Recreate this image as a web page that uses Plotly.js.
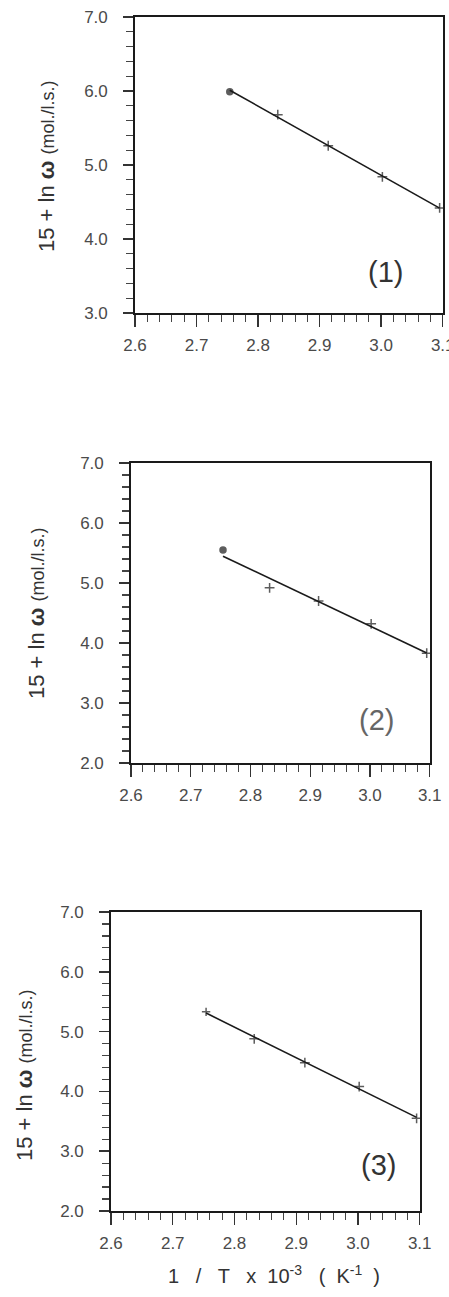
<!DOCTYPE html>
<html>
<head>
<meta charset="utf-8">
<script src="https://cdn.plot.ly/plotly-3.0.1.min.js"></script>
<style>html,body{margin:0;padding:0;background:#fff}#chart{width:449px;height:1297px}</style>
</head>
<body>
<div id="chart"></div>
<script>
// ---- data ----
var invT = [2.754, 2.832, 2.914, 3.002, 3.095];          // 1/T x 10^-3 (K^-1)
var lnW1 = [5.99, 5.68, 5.26, 4.84, 4.42];               // panel (1)
var lnW2 = [5.55, 4.92, 4.70, 4.32, 3.83];               // panel (2)
var lnW3 = [5.33, 4.88, 4.48, 4.08, 3.55];               // panel (3)
var xTickLabels = ['2.6', '2.7', '2.8', '2.9', '3.0', '3.1'];
var panelLabels = ['(1)', '(2)', '(3)'];
var yTitle = '15 + ln <b>ω</b> <span style="font-size:18px">(mol./l.s.)</span>';
var xTitle = '1 \u00a0\u00a0/\u00a0\u00a0 T \u00a0\u00a0x\u00a0 10<sup>-3</sup> \u00a0\u00a0( \u00a0K<sup>-1</sup> \u00a0)';

var W = 449, H = 1297;
function fx(px){ return px / W; }
function fy(py){ return 1 - py / H; }

function fit(x, y){
  var n = x.length, mx = 0, my = 0;
  for (var i = 0; i < n; i++){ mx += x[i]; my += y[i]; }
  mx /= n; my /= n;
  var sxy = 0, sxx = 0;
  for (var j = 0; j < n; j++){ sxy += (x[j]-mx)*(y[j]-my); sxx += (x[j]-mx)*(x[j]-mx); }
  var b = sxy / sxx, a = my - b*mx;
  var xs = [x[0], x[n-1]];
  return {x: xs, y: xs.map(function(v){ return a + b*v; })};
}

var series = [lnW1, lnW2, lnW3];
var traces = [];
series.forEach(function(ys, k){
  var sfx = k === 0 ? '' : String(k+1);
  var f = fit(invT, ys);
  traces.push({x: f.x, y: f.y, xaxis: 'x'+sfx, yaxis: 'y'+sfx, mode: 'lines',
    line: {color: '#1a1a1a', width: 1.6}, showlegend: false, hoverinfo: 'skip'});
  traces.push({x: invT, y: ys, xaxis: 'x'+sfx, yaxis: 'y'+sfx, mode: 'markers',
    marker: {symbol: k === 2 ? 'cross-thin' : ['circle','cross-thin','cross-thin','cross-thin','cross-thin'],
             size: [6,7,7,7,7], color: '#1a1a1a', line: {color: '#1a1a1a', width: 1.5}},
    showlegend: false});
});

var tickFont = {family: 'Liberation Sans, Arial, sans-serif', size: 17, color: '#4a4a4a'};
function xax(d0, d1, anchor){
  return {domain: [fx(d0), fx(d1)], range: [2.6, 3.1005], anchor: anchor,
    tickvals: [2.6, 2.7, 2.8, 2.9, 3.0, 3.1], ticktext: xTickLabels,
    ticks: 'outside', ticklen: 12, tickwidth: 1.3, tickcolor: '#333',
    minor: {dtick: 0.02, tick0: 2.6, ticks: 'outside', ticklen: 7, tickwidth: 1, tickcolor: '#444'},
    showline: true, linecolor: '#1a1a1a', linewidth: 1.8, mirror: true,
    showgrid: false, zeroline: false, ticklabelstandoff: 4, ticklabeloverflow: 'allow',
    tickfont: tickFont, fixedrange: true};
}
function yax(d0, d1, r0, anchor){
  var tv = [], tt = [];
  for (var v = r0; v <= 7; v++){ tv.push(v); tt.push(v.toFixed(1)); }
  return {domain: [fy(d1), fy(d0)], range: [r0, 7], anchor: anchor,
    tickvals: tv, ticktext: tt,
    ticks: 'outside', ticklen: 10, tickwidth: 1.6, tickcolor: '#333',
    minor: {dtick: 0.2, tick0: r0, ticks: 'outside', ticklen: 7, tickwidth: 1.2, tickcolor: '#444'},
    showline: true, linecolor: '#1a1a1a', linewidth: 1.8, mirror: true,
    showgrid: false, zeroline: false, ticklabelstandoff: 12, tickfont: tickFont, fixedrange: true};
}

var annFam = 'Liberation Sans, Arial, sans-serif';
function ann(text, px, py, size, angle, color){
  return {text: text, xref: 'paper', yref: 'paper', x: fx(px), y: fy(py),
    xanchor: 'center', yanchor: 'middle', showarrow: false, textangle: angle || 0,
    font: {family: annFam, color: color || '#333', size: size}};
}

var layout = {
  width: W, height: H, margin: {l: 0, r: 0, t: 0, b: 0},
  paper_bgcolor: '#fff', plot_bgcolor: '#fff', showlegend: false,
  xaxis: xax(135, 443, 'y'),  yaxis: yax(17, 313, 3, 'x'),
  xaxis2: xax(131, 430, 'y2'), yaxis2: yax(463, 763, 2, 'x2'),
  xaxis3: xax(111, 420, 'y3'), yaxis3: yax(912, 1211, 2, 'x3'),
  annotations: [
    ann(yTitle, 47, 166, 22, -90),
    ann(yTitle, 36, 613, 22, -90),
    ann(yTitle, 24, 1075, 22, -90),
    ann(panelLabels[0], 385, 272, 29, 0),
    ann(panelLabels[1], 376, 720, 29, 0, '#666'),
    ann(panelLabels[2], 378, 1165, 29, 0),
    ann(xTitle, 274, 1274, 20)
  ]
};

Plotly.newPlot('chart', traces, layout, {staticPlot: true, displayModeBar: false});
</script>
</body>
</html>
